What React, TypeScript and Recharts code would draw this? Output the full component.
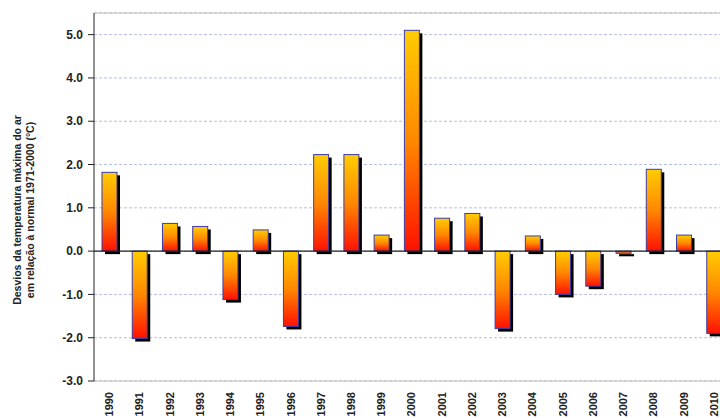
import React from 'react';
import { BarChart, Bar, XAxis, YAxis, CartesianGrid, ReferenceLine } from 'recharts';

const years = [
  '1990', '1991', '1992', '1993', '1994', '1995', '1996', '1997', '1998', '1999', '2000',
  '2001', '2002', '2003', '2004', '2005', '2006', '2007', '2008', '2009', '2010',
];
const deviations = [
  1.82, -2.02, 0.64, 0.57, -1.12, 0.49, -1.74, 2.23, 2.23, 0.37, 5.1,
  0.76, 0.87, -1.79, 0.35, -1.0, -0.81, -0.05, 1.89, 0.37, -1.9,
];
const yTicks = [-3, -2, -1, 0, 1, 2, 3, 4, 5];
const yLabelLines = ['Desvios da temperatura máxima do ar', 'em relação à normal 1971-2000 (°C)'];

const data = years.map((year, i) => ({ year, value: deviations[i] }));

const FONT = '"Liberation Sans", Arial, sans-serif';

// bar with a dropped black shadow and a yellow->red gradient
function ShadowBar(props: any) {
  const { x, y, width, height } = props;
  const top = Math.min(y, y + height);
  const h = Math.abs(height);
  return (
    <g>
      <rect x={x + 3} y={top + 3} width={width} height={h} fill="#000" />
      <rect x={x} y={top} width={width} height={h} fill="url(#barGrad)" stroke="#3c3ca8" strokeWidth={1} />
    </g>
  );
}

function YearTick({ x, y, payload }: any) {
  return (
    <g transform={`translate(${x},${y})`}>
      <text transform="rotate(-90)" textAnchor="end" dy="0.36em"
        fontFamily={FONT} fontWeight="bold" fontSize={11} fill="#222">
        {payload.value}
      </text>
    </g>
  );
}

function YLabel() {
  return (
    <g transform="translate(17,210) rotate(-90)">
      {yLabelLines.map((t, i) => (
        <text key={i} x={0} y={i * 13} textAnchor="middle" dy="0.35em"
          fontFamily={FONT} fontWeight="bold" fontSize={10.5} fill="#222">
          {t}
        </text>
      ))}
    </g>
  );
}

export default function App() {
  return (
    <div style={{ position: 'fixed', left: 0, top: 0, width: 720, height: 418, overflow: 'hidden', background: '#fff' }}>
      <BarChart width={740} height={460} data={data}
        margin={{ top: 13, right: 11, bottom: 0, left: 0 }}>
        <defs>
          <linearGradient id="barGrad" x1="0" y1="0" x2="0" y2="1">
            <stop offset="0%" stopColor="#ffcc00" />
            <stop offset="50%" stopColor="#ff8800" />
            <stop offset="100%" stopColor="#ff1100" />
          </linearGradient>
        </defs>
        <CartesianGrid vertical={false} stroke="#b4bfe6" strokeDasharray="3 2" />
        <XAxis dataKey="year" height={79} interval={0} tick={(p: any) => <YearTick {...p} />}
          tickLine={false} tickSize={0} tickMargin={11} axisLine={{ stroke: '#bdbdbd' }} />
        <YAxis width={94} domain={[-3, 5.5]} ticks={yTicks} interval={0}
          tickFormatter={(v: number) => v.toFixed(1)}
          tick={{ fontFamily: FONT, fontWeight: 'bold', fontSize: 12, fill: '#222' }}
          tickSize={6} tickMargin={5} tickLine={{ stroke: '#222' }}
          axisLine={{ stroke: '#222' }} label={<YLabel />} />
        <ReferenceLine y={5.5} stroke="#bdbdbd" />
        <ReferenceLine y={0} stroke="#222" strokeWidth={1.2} />
        <Bar dataKey="value" barSize={15} shape={(p: any) => <ShadowBar {...p} />} isAnimationActive={false} />
      </BarChart>
    </div>
  );
}
